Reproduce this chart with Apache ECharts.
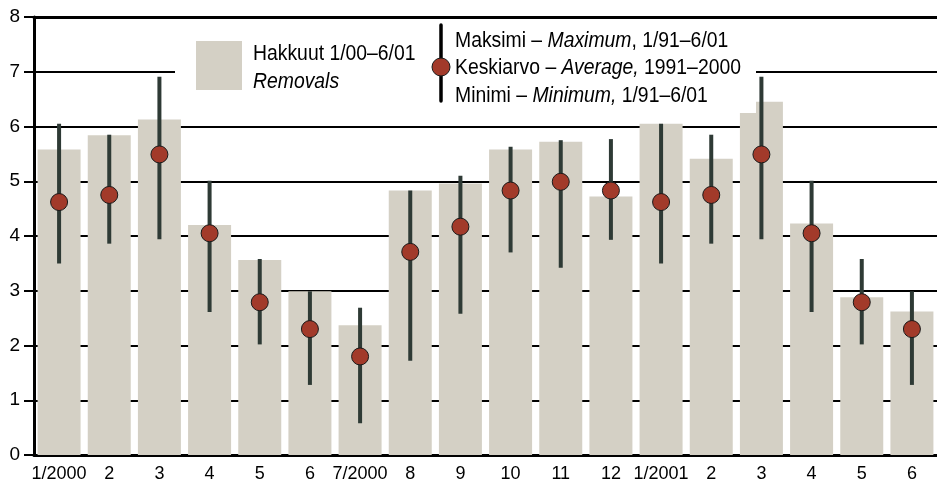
<!DOCTYPE html>
<html>
<head>
<meta charset="utf-8">
<script src="https://cdn.jsdelivr.net/npm/echarts@6/dist/echarts.min.js"></script>
<style>
html,body{margin:0;padding:0;background:#fff;}
#chart{width:937px;height:483px;}
</style>
</head>
<body>
<div id="chart"></div>
<script>
var categories = ['1/2000','2','3','4','5','6','7/2000','8','9','10','11','12','1/2001','2','3','4','5','6'];
var removals = [5.58, 5.84, 6.13, 4.2, 3.56, 2.99, 2.37, 4.83, 4.96, 5.58, 5.72, 4.72, 6.05, 5.41, 6.45, 4.23, 2.88, 2.62];
var average = [4.62, 4.75, 5.49, 4.05, 2.79, 2.3, 1.8, 3.71, 4.17, 4.83, 4.99, 4.83, 4.62, 4.75, 5.49, 4.05, 2.79, 2.3];
var maximum = [6.05, 5.85, 6.91, 5.01, 3.58, 2.99, 2.69, 4.83, 5.1, 5.63, 5.75, 5.77, 6.05, 5.85, 6.91, 5.01, 3.58, 2.99];
var minimum = [3.5, 3.86, 3.94, 2.61, 2.02, 1.28, 0.58, 1.72, 2.58, 3.7, 3.42, 3.93, 3.5, 3.86, 3.94, 2.61, 2.02, 1.28];
var yTicks = [0, 1, 2, 3, 4, 5, 6, 7, 8];

var FONT = '"Liberation Sans Narrow", "Arial Narrow", "Liberation Sans", Arial, sans-serif';
var BAR = '#d4d0c5';
var DOT = '#a23a2a';
var WHISKER = '#2e3a35';
var SX = 0.88;

var rangeData = categories.map(function (c, i) { return [i, minimum[i], maximum[i]]; });

var chart = echarts.init(document.getElementById('chart'), null, {renderer: 'canvas'});
chart.setOption({
  animation: false,
  backgroundColor: '#fff',
  grid: {left: 34, top: 17, width: 907, height: 439, containLabel: false},
  xAxis: [{
    type: 'category',
    data: categories,
    position: 'bottom',
    axisLine: {lineStyle: {color: '#000', width: 3}},
    axisTick: {alignWithLabel: true, length: 9, lineStyle: {color: '#000', width: 2}},
    axisLabel: {margin: 10, fontSize: 18, color: '#000', fontFamily: FONT, interval: 0},
    splitLine: {show: false}
  }, {
    type: 'category',
    data: categories,
    position: 'top',
    axisLine: {lineStyle: {color: '#000', width: 3}},
    axisTick: {show: false},
    axisLabel: {show: false},
    splitLine: {show: false}
  }],
  yAxis: {
    type: 'value',
    min: yTicks[0],
    max: yTicks[yTicks.length - 1],
    interval: 1,
    axisLine: {show: true, lineStyle: {color: '#000', width: 3}},
    axisTick: {show: true, length: 10, lineStyle: {color: '#000', width: 2}},
    axisLabel: {margin: 14, fontSize: 19, color: '#000', fontFamily: FONT},
    splitLine: {show: true, lineStyle: {color: '#000', width: 2}}
  },
  series: [{
    type: 'bar',
    data: removals,
    barWidth: 43,
    itemStyle: {color: BAR},
    z: 2
  }, {
    type: 'custom',
    data: rangeData,
    z: 3,
    renderItem: function (params, api) {
      var lo = api.coord([api.value(0), api.value(1)]);
      var hi = api.coord([api.value(0), api.value(2)]);
      return {
        type: 'line',
        shape: {x1: lo[0], y1: lo[1], x2: hi[0], y2: hi[1]},
        style: {stroke: WHISKER, lineWidth: 4, lineCap: 'butt'}
      };
    }
  }, {
    type: 'scatter',
    data: average,
    symbol: 'circle',
    symbolSize: 17,
    itemStyle: {color: DOT, borderColor: '#1a1a1a', borderWidth: 1, opacity: 1},
    z: 4
  }],
  graphic: [
    {type: 'rect', x: 175, y: 19, shape: {width: 581, height: 94}, style: {fill: '#fff'}, z: 50},
    {type: 'rect', x: 196, y: 41, shape: {width: 46, height: 49}, style: {fill: BAR}, z: 51},
    {type: 'text', x: 253, y: 54, scaleX: SX, style: {text: 'Hakkuut 1/00–6/01', font: '22px ' + FONT, fill: '#000', verticalAlign: 'middle'}, z: 51},
    {type: 'text', x: 253, y: 82, scaleX: SX, style: {text: 'Removals', font: 'italic 22px ' + FONT, fill: '#000', verticalAlign: 'middle'}, z: 51},
    {type: 'line', shape: {x1: 441, y1: 25, x2: 441, y2: 101}, style: {stroke: '#000', lineWidth: 3.5, lineCap: 'round'}, z: 51},
    {type: 'circle', shape: {cx: 441, cy: 67, r: 9}, style: {fill: DOT, stroke: '#1a1a1a', lineWidth: 1}, z: 52},
    {type: 'text', x: 455, y: 41, scaleX: SX, style: {
      text: 'Maksimi – {i|Maximum}, 1/91–6/01', font: '22px ' + FONT, fill: '#000', verticalAlign: 'middle',
      rich: {i: {fontStyle: 'italic', fontSize: 22, fontFamily: FONT}}}, z: 51},
    {type: 'text', x: 455, y: 68, scaleX: SX, style: {
      text: 'Keskiarvo – {i|Average,} 1991–2000', font: '22px ' + FONT, fill: '#000', verticalAlign: 'middle',
      rich: {i: {fontStyle: 'italic', fontSize: 22, fontFamily: FONT}}}, z: 51},
    {type: 'text', x: 455, y: 96, scaleX: SX, style: {
      text: 'Minimi – {i|Minimum,} 1/91–6/01', font: '22px ' + FONT, fill: '#000', verticalAlign: 'middle',
      rich: {i: {fontStyle: 'italic', fontSize: 22, fontFamily: FONT}}}, z: 51}
  ]
});
</script>
</body>
</html>
